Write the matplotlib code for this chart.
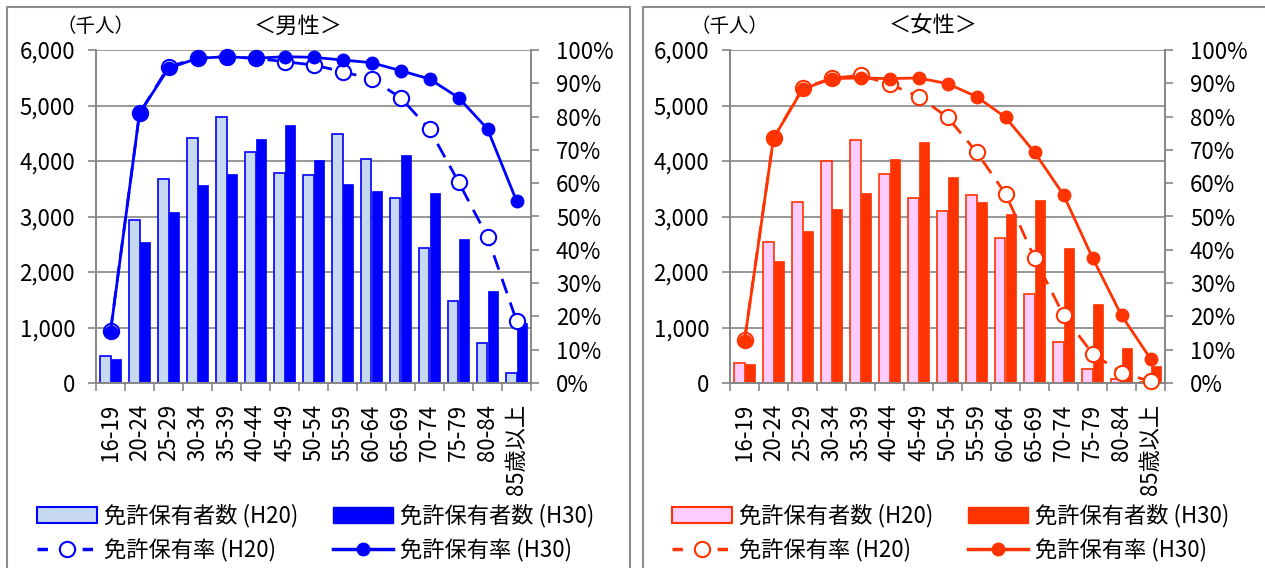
import numpy as np
import matplotlib
matplotlib.use('Agg')
import matplotlib.pyplot as plt
from matplotlib.lines import Line2D
from matplotlib.patches import Rectangle, Patch
from matplotlib.ticker import FuncFormatter, MultipleLocator

plt.rcParams['font.family'] = ['Noto Sans CJK JP', 'DejaVu Sans']

ages = ['16-19', '20-24', '25-29', '30-34', '35-39', '40-44', '45-49', '50-54',
        '55-59', '60-64', '65-69', '70-74', '75-79', '80-84', '85歳以上']

# 男性 (千人)
male_h20 = [490, 2940, 3680, 4410, 4800, 4160, 3780, 3750, 4480, 4030, 3330, 2440, 1480, 715, 175]
male_h30 = [430, 2540, 3080, 3560, 3760, 4390, 4640, 4010, 3590, 3460, 4100, 3430, 2600, 1650, 1080]
# 男性 保有率 (%)
male_rate_h20 = [15.6, 81.0, 95.0, 97.5, 98.0, 97.5, 96.5, 95.5, 93.5, 91.3, 85.7, 76.2, 60.4, 43.9, 18.7]
male_rate_h30 = [15.3, 81.0, 94.5, 97.5, 98.0, 97.5, 98.0, 97.8, 97.0, 96.2, 93.8, 91.3, 85.7, 76.3, 54.7]

# 女性 (千人)
female_h20 = [360, 2535, 3260, 4000, 4380, 3770, 3330, 3100, 3390, 2620, 1600, 740, 260, 70, 15]
female_h30 = [340, 2190, 2730, 3140, 3430, 4040, 4350, 3720, 3270, 3050, 3300, 2440, 1420, 630, 300]
# 女性 保有率 (%)
female_rate_h20 = [12.8, 73.5, 88.5, 91.5, 92.4, 89.8, 86.0, 79.8, 69.4, 56.8, 37.6, 20.4, 8.8, 3.1, 0.5]
female_rate_h30 = [12.6, 73.5, 88.2, 91.4, 91.6, 91.4, 91.6, 89.9, 86.0, 79.8, 69.3, 56.5, 37.6, 20.3, 7.3]

W, H = 1265, 568
fig = plt.figure(figsize=(W / 100, H / 100), dpi=100)
grey = '#868686'
fs = 16


def panel(left_px, title, title_x, unit_x, h20, h30, r20, r30, dark, light, leg_x):
    ax = fig.add_axes([left_px / W, 1 - 383 / H, 435 / W, 333 / H])
    x = np.arange(len(ages))
    bw = 0.35
    ax.bar(x - bw / 2, h20, bw, color=light, edgecolor=dark, linewidth=1.2, zorder=2)
    ax.bar(x + bw / 2, h30, bw, color=dark, edgecolor=dark, linewidth=0.5, zorder=2)
    ax.set_xlim(-0.5, len(ages) - 0.5)
    ax.set_ylim(0, 6000)
    ax.yaxis.set_major_locator(MultipleLocator(1000))
    ax.yaxis.set_major_formatter(FuncFormatter(lambda v, p: f'{int(v):,}'))
    ax.grid(axis='y', color=grey, linewidth=1.2)
    ax.set_axisbelow(True)
    ax.set_xticks(x)
    ax.set_xticklabels(ages, rotation=90, va='top', ha='center')
    ax.set_xticks(np.arange(len(ages) + 1) - 0.5, minor=True)
    ax.tick_params(axis='x', which='major', length=0, pad=15, labelsize=fs)
    ax.tick_params(axis='x', which='minor', length=6, color=grey, width=1.2)
    ax.tick_params(axis='y', length=6, color=grey, width=1.2, pad=9, labelsize=fs)
    for s in ax.spines.values():
        s.set_color(grey)
        s.set_linewidth(1.2)
    ax.spines['top'].set_visible(False)

    ax2 = ax.twinx()
    ax2.set_ylim(0, 1)
    ax2.yaxis.set_major_locator(MultipleLocator(0.1))
    ax2.yaxis.set_major_formatter(FuncFormatter(lambda v, p: f'{v * 100:.0f}%'))
    ax2.tick_params(axis='y', length=6, color=grey, width=1.2, pad=12, labelsize=fs)
    for s in ax2.spines.values():
        s.set_color(grey)
        s.set_linewidth(1.2)
    ax2.spines['top'].set_visible(False)
    ax2.plot(x, np.array(r20) / 100, color=dark, lw=2, dashes=(5.5, 3.5),
             marker='o', ms=11, mfc='white', mec=dark, mew=1.5, zorder=3, clip_on=False)
    ax2.plot(x, np.array(r30) / 100, color=dark, lw=2,
             marker='o', ms=9, mfc=dark, mec=dark, zorder=4, clip_on=False)

    fig.text(title_x / W, 1 - 26 / H, title, ha='center', va='center', fontsize=16)
    fig.text(unit_x / W, 1 - 26 / H, '（千人）', ha='left', va='center', fontsize=14)

    hb20 = Patch(facecolor=light, edgecolor=dark, linewidth=1.5)
    hb30 = Patch(facecolor=dark, edgecolor=dark)
    hl20 = Line2D([], [], color=dark, lw=2.5, dashes=(3, 3.5), marker='o', ms=11,
                  mfc='white', mec=dark, mew=1.5)
    hl30 = Line2D([], [], color=dark, lw=2.5, marker='o', ms=9, mfc=dark, mec=dark)
    cols = [([hb20, hl20], ['免許保有者数 (H20)', '免許保有率 (H20)']),
            ([hb30, hl30], ['免許保有者数 (H30)', '免許保有率 (H30)'])]
    for (hs, ls), lx in zip(cols, leg_x):
        fig.legend(hs, ls, loc='upper left', bbox_to_anchor=(lx / W, 1 - 504 / H),
                   frameon=False, fontsize=fs, handlelength=2.7, handletextpad=0.3,
                   labelspacing=0.45, borderpad=0, borderaxespad=0)


panel(96, '＜男性＞', 298, 56, male_h20, male_h30, male_rate_h20, male_rate_h30,
      '#0000FF', '#C6D9F1', [37, 333])
panel(730, '＜女性＞', 933, 690, female_h20, female_h30, female_rate_h20, female_rate_h30,
      '#FF3300', '#FFCCFF', [672, 968])

# panel frames
fig.patches.append(Rectangle((7 / W, -0.05), (630 - 7) / W, 1.05 - 7 / H,
                             transform=fig.transFigure, fill=False, edgecolor='#8c8c8c', lw=1.5))
fig.patches.append(Rectangle((643 / W, -0.05), (1275 - 643) / W, 1.05 - 7 / H,
                             transform=fig.transFigure, fill=False, edgecolor='#8c8c8c', lw=1.5))

fig.savefig('out.png', dpi=100)
